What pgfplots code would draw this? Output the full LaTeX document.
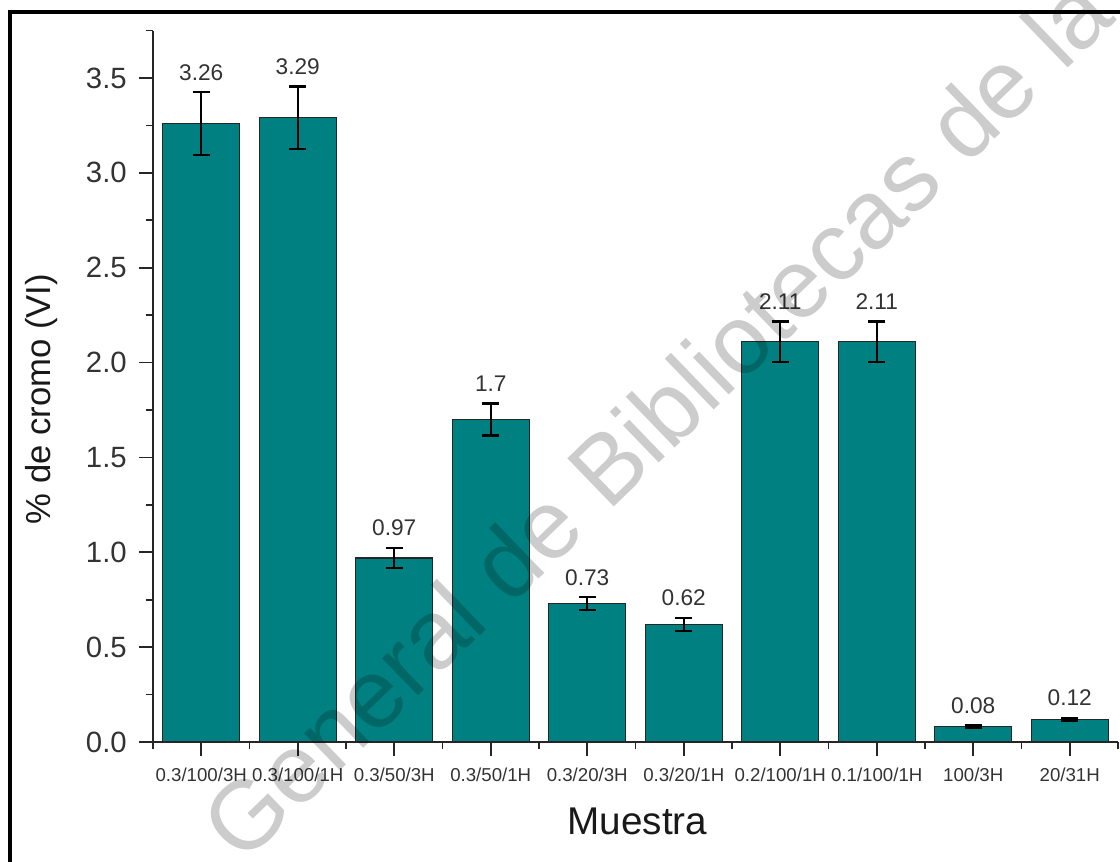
\documentclass[border=0pt]{standalone}
\usepackage{fontspec}
\setmainfont{Liberation Sans}
\usepackage{pgfplots}
\pgfplotsset{compat=1.18}
\usepackage{pgfplotstable}

\definecolor{barteal}{RGB}{0,128,128}

% muestra, % de cromo (VI), error, etiqueta
\pgfplotstableread{
x y err lab
0 3.26 0.165 3.26
1 3.29 0.165 3.29
2 0.97 0.053 0.97
3 1.70 0.085 1.7
4 0.73 0.034 0.73
5 0.62 0.034 0.62
6 2.11 0.106 2.11
7 2.11 0.106 2.11
8 0.08 0.006 0.08
9 0.12 0.007 0.12
}\datatable

\begin{document}
\begin{tikzpicture}
\useasboundingbox (0,0) rectangle (840pt,645.75pt);
\clip (0,0) rectangle (840pt,645.75pt);

\begin{axis}[
  at={(114.75pt,89.25pt)}, anchor=south west,
  scale only axis,
  width=723.75pt, height=533.6pt,
  xmin=-0.5, xmax=9.5,
  ymin=0, ymax=3.75,
  clip=false,
  axis x line*=bottom,
  axis y line*=left,
  axis line style={line width=1.5pt, black!85},
  tick align=outside,
  major tick length=10.5pt,
  minor tick length=5.5pt,
  every tick/.style={line width=1.3pt, black!85},
  xtick={0,...,9},
  minor xtick={-0.5,0.5,...,9.5},
  xticklabels={0.3/100/3H,0.3/100/1H,0.3/50/3H,0.3/50/1H,0.3/20/3H,0.3/20/1H,0.2/100/1H,0.1/100/1H,100/3H,20/31H},
  ytick={0,0.5,...,3.5},
  minor ytick={0.25,0.75,...,3.75},
  /pgf/number format/fixed,
  /pgf/number format/fixed zerofill,
  /pgf/number format/precision=1,
  /pgf/number format/assume math mode=true,
  y tick label style={font=\fontsize{22}{26}\selectfont, text=black!80, inner sep=0pt, xshift=-9pt},
  x tick label style={font=\fontsize{14}{16}\selectfont, text=black!80, inner sep=0pt, yshift=-9pt},
  xlabel={Muestra},
  ylabel={\% de cromo (VI)},
  xlabel style={font=\fontsize{29}{34}\selectfont, text=black!90, at={(axis description cs:0.502,-0.1307)}, anchor=base},
  ylabel style={font=\fontsize{26}{30}\selectfont, text=black!90, at={(axis description cs:-0.0984,0.482)}, anchor=south, inner sep=0pt},
]

\addplot[ybar, bar width=0.8, fill=barteal, draw=black!85, line width=0.8pt,
  error bars/.cd, y dir=both, y explicit,
  error bar style={line width=1.8pt, black},
  error mark options={rotate=90, mark size=6.4pt, line width=1.8pt, black}]
  table[x=x, y=y, y error=err] {\datatable};

\addplot[draw=none, mark=none, nodes near coords, point meta=explicit symbolic,
  every node near coord/.append style={anchor=south, inner sep=0pt, yshift=8.6pt,
    font=\fontsize{17}{20}\selectfont, text=black!80}]
  table[x=x, y expr=\thisrow{y}+\thisrow{err}, meta=lab] {\datatable};

\end{axis}

% marca de agua
\node[rotate=44, text=black, text opacity=0.2, font=\fontsize{73}{80}\selectfont]
  at (492pt,332.25pt) {General de Bibliotecas de la};

% marco
\draw[line width=3.5pt] (7.5pt,-10pt) -- (7.5pt,636.75pt) -- (860pt,636.75pt);
\end{tikzpicture}
\end{document}
